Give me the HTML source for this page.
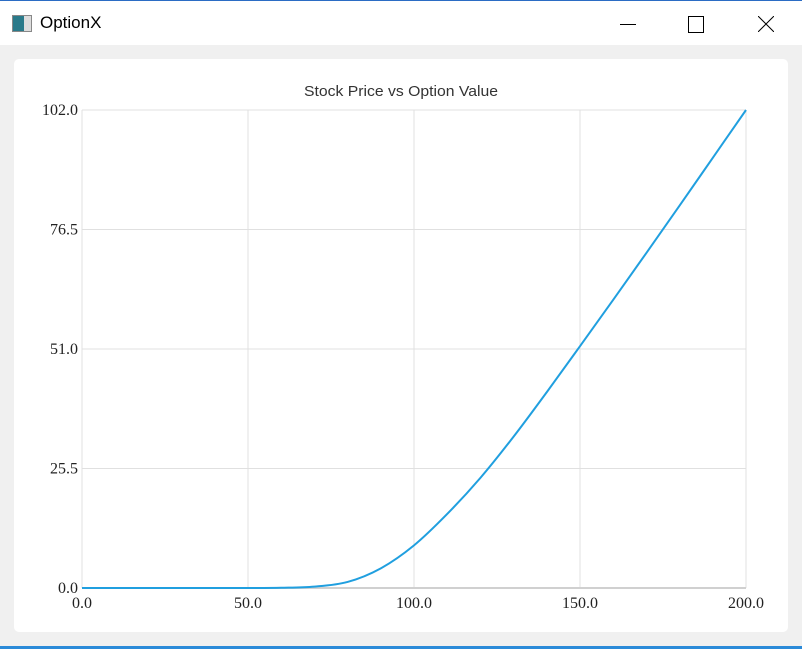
<!DOCTYPE html>
<html><head><meta charset="utf-8"><style>
body{margin:0;width:802px;height:649px;overflow:hidden;background:#f0f0f0;font-family:"Liberation Sans",sans-serif;position:relative}
#tb{position:absolute;left:0;top:0;width:802px;height:45px;background:#fff;border-top:1px solid #2b6cc4;box-sizing:border-box}
#card{position:absolute;left:14px;top:59px;width:774px;height:573px;background:#fff;border-radius:5px}
</style></head><body>
<div id="tb">
 <div style="position:absolute;left:12px;top:14px;width:18px;height:15px;border:1px solid #888;background:linear-gradient(90deg,#2a7a8a 60%,#ddd 60%)"></div>
 <div style="position:absolute;left:40px;top:12px;font-size:17px;color:#000">OptionX</div>
 <div style="position:absolute;left:620px;top:23px;width:16px;height:1px;background:#000"></div>
 <div style="position:absolute;left:688px;top:15px;width:14px;height:15px;border:1px solid #000"></div>
 <svg style="position:absolute;left:758px;top:15px" width="16" height="16"><path d="M0,0L16,16M16,0L0,16" stroke="#000" stroke-width="1"/></svg>
</div>
<div id="card"></div>
<div style="position:absolute;left:0;top:646px;width:802px;height:3px;background:#2b8ad8"></div>
<svg id="chart" width="802" height="649" style="position:absolute;left:0;top:0"></svg>
<script>
const xTicks=[0,50,100,150,200];
const yTicks=[0,25.5,51,76.5,102];
const prices=[0,10,20,30,40,50,60,70,80,90,100,110,120,130,140,150,160,170,180,190,200];
const values=[0,0,0,0,0,0,0.05,0.3,1.3,4.2,9.1,15.8,23.5,32.3,41.8,51.6,61.5,71.5,81.6,91.8,102];
const NS="http://www.w3.org/2000/svg",svg=document.getElementById('chart');
const X0=82,X1=746,Y0=588,Y1=110;
const sx=v=>X0+(v-0)/(200-0)*(X1-X0), sy=v=>Y0-(v-0)/(102-0)*(Y0-Y1);
function mk(t,a,txt){const e=document.createElementNS(NS,t);for(const k in a)e.setAttribute(k,a[k]);if(txt!==undefined)e.textContent=txt;svg.appendChild(e);return e;}
let t=mk('text',{x:401,y:96,'text-anchor':'middle','font-size':15,fill:'#333',textLength:194,lengthAdjust:'spacingAndGlyphs'},'Stock Price vs Option Value');


xTicks.forEach(v=>{
 let g=mk('line',{x1:sx(v),x2:sx(v),y1:Y1,y2:Y0,stroke:'#e0e0e0','stroke-width':1});
 
 
 let l=mk('text',{x:sx(v),y:Y0+20,'text-anchor':'middle','font-size':16,fill:'#222','font-family':'Liberation Serif, serif'},v.toFixed(1));
 
 
});
yTicks.forEach(v=>{
 let g=mk('line',{x1:X0,x2:X1,y1:sy(v),y2:sy(v),stroke:v===0?'#d0d0d0':'#e0e0e0','stroke-width':v===0?2:1});
 
 
 let l=mk('text',{x:X0-4,y:sy(v)+5,'text-anchor':'end','font-size':16,fill:'#222','font-family':'Liberation Serif, serif'},v.toFixed(1));
 
 
});
const pts=prices.map((p,i)=>[sx(p),sy(values[i])]);
let d='M'+pts[0][0]+','+pts[0][1];
for(let i=0;i<pts.length-1;i++){const p0=pts[Math.max(0,i-1)],p1=pts[i],p2=pts[i+1],p3=pts[Math.min(pts.length-1,i+2)];
 d+=` C${p1[0]+(p2[0]-p0[0])/6},${p1[1]+(p2[1]-p0[1])/6} ${p2[0]-(p3[0]-p1[0])/6},${p2[1]-(p3[1]-p1[1])/6} ${p2[0]},${p2[1]}`;}
let ln=mk('path',{d:d,fill:'none',stroke:'#209fdf','stroke-width':2});


</script>
</body></html>
